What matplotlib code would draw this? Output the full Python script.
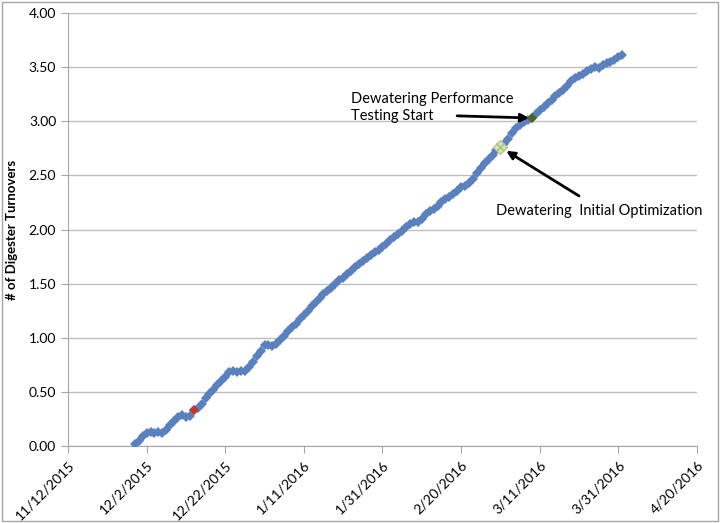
import matplotlib
matplotlib.use('Agg')
import pandas as pd
import matplotlib.pyplot as plt
from matplotlib.patches import Rectangle

plt.rcParams['font.family'] = ['Lato', 'DejaVu Sans']

# daily turnover count, 11/29/2015 .. 4/1/2016
turnovers = [
    0.02, 0.05, 0.09, 0.12, 0.13, 0.12, 0.13, 0.12, 0.15, 0.19,
    0.23, 0.27, 0.29, 0.27, 0.28, 0.33, 0.35, 0.39, 0.44, 0.48,
    0.52, 0.56, 0.60, 0.64, 0.68, 0.69, 0.68, 0.69, 0.69, 0.73,
    0.78, 0.83, 0.88, 0.93, 0.93, 0.92, 0.94, 0.98, 1.02, 1.06,
    1.10, 1.13, 1.17, 1.21, 1.25, 1.29, 1.33, 1.37, 1.40, 1.43,
    1.46, 1.50, 1.53, 1.55, 1.59, 1.62, 1.65, 1.68, 1.71, 1.74,
    1.76, 1.79, 1.81, 1.84, 1.87, 1.90, 1.93, 1.96, 1.99, 2.02,
    2.05, 2.07, 2.07, 2.10, 2.14, 2.17, 2.19, 2.22, 2.25, 2.28,
    2.30, 2.33, 2.36, 2.39, 2.40, 2.43, 2.47, 2.52, 2.57, 2.61,
    2.65, 2.69, 2.73, 2.76, 2.79, 2.84, 2.89, 2.94, 2.97, 2.99,
    3.01, 3.03, 3.07, 3.10, 3.13, 3.17, 3.20, 3.23, 3.26, 3.29,
    3.33, 3.37, 3.40, 3.42, 3.44, 3.46, 3.48, 3.50, 3.49, 3.52,
    3.54, 3.55, 3.57, 3.59, 3.61,
]
dates = pd.date_range('2015-11-29', periods=len(turnovers), freq='D')

red_day = pd.Timestamp('2015-12-14')
init_opt_day = pd.Timestamp('2016-03-01')
perf_test_day = pd.Timestamp('2016-03-09')

tick_dates = pd.date_range('2015-11-12', '2016-04-20', freq='20D')
tick_labels = [f"{d.month}/{d.day}/{d.year}" for d in tick_dates]

df = pd.DataFrame({'Date': dates, 'Turnovers': turnovers}).set_index('Date')

fig = plt.figure(figsize=(7.2, 5.23), dpi=100)
ax = fig.add_axes([0.0944, 0.1472, 0.8736, 0.8279])

ax.plot(df.index, df['Turnovers'], linestyle='none', marker='D', markersize=5.5,
        color='#5B80BE', markeredgewidth=0, zorder=3)

ax.plot([red_day], [df.loc[red_day, 'Turnovers']], linestyle='none', marker='D',
        markersize=5.5, color='#C0392B', markeredgewidth=0, zorder=4)
ax.plot([init_opt_day], [df.loc[init_opt_day, 'Turnovers']], linestyle='none', marker='D',
        markersize=7, color='#D8E4BC', markeredgecolor='#B5C98E', markeredgewidth=1, zorder=4)
ax.plot([init_opt_day], [df.loc[init_opt_day, 'Turnovers']], linestyle='none', marker='x',
        markersize=6, color='#A9C07A', markeredgewidth=1, zorder=5)
ax.plot([perf_test_day], [df.loc[perf_test_day, 'Turnovers']], linestyle='none', marker='D',
        markersize=5.5, color='#4F6228', markeredgewidth=0, zorder=4)

# performance testing note
ax.text(pd.Timestamp('2016-01-23'), 3.13, 'Dewatering Performance\nTesting Start',
        fontsize=10.5, ha='left', va='center', linespacing=1.3)
ax.annotate('', xy=(perf_test_day, df.loc[perf_test_day, 'Turnovers']),
            xytext=(pd.Timestamp('2016-02-19'), 3.05),
            arrowprops=dict(arrowstyle='-|>', color='black', lw=2,
                            shrinkA=0, shrinkB=2, mutation_scale=12))

# initial optimization note
ax.text(pd.Timestamp('2016-02-29'), 2.17, 'Dewatering  Initial Optimization',
        fontsize=10.5, ha='left', va='center')
ax.annotate('', xy=(init_opt_day, df.loc[init_opt_day, 'Turnovers']),
            xytext=(pd.Timestamp('2016-03-21'), 2.31),
            arrowprops=dict(arrowstyle='-|>', color='black', lw=2,
                            shrinkA=0, shrinkB=5, mutation_scale=12))

ax.set_xlim(tick_dates[0], tick_dates[-1])
ax.set_xticks(tick_dates)
ax.set_xticklabels(tick_labels, rotation=45, ha='right', rotation_mode='anchor', fontsize=10)
ax.set_ylim(0, 4)
ax.set_yticks([i * 0.5 for i in range(9)])
ax.set_yticklabels([f"{i * 0.5:.2f}" for i in range(9)], fontsize=10)
ax.set_ylabel('# of Digester Turnovers', fontsize=9.5, fontweight='bold', labelpad=8)

ax.grid(axis='y', color='#BFBFBF', linewidth=1)
ax.set_axisbelow(True)
for side in ['top', 'right']:
    ax.spines[side].set_visible(False)
for side in ['left', 'bottom']:
    ax.spines[side].set_color('#A6A6A6')
ax.tick_params(axis='both', colors='#A6A6A6', labelcolor='black', length=5)
ax.tick_params(axis='x', pad=4)

fig.patches.append(Rectangle((0.003, 0.004), 0.994, 0.992, transform=fig.transFigure,
                             fill=False, edgecolor='#A6A6A6', linewidth=1))

fig.savefig('out.png', dpi=100)
